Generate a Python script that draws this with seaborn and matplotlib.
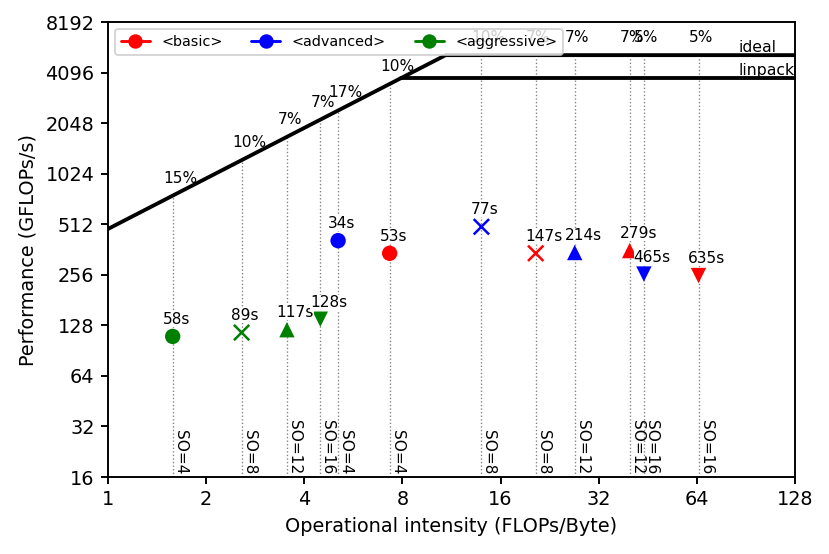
import numpy as np
import pandas as pd
import matplotlib
matplotlib.use("Agg")
import matplotlib.pyplot as plt
from matplotlib.lines import Line2D
import seaborn as sns

# roofline da maquina
bandwidth = 480.0      # GB/s
linpack_peak = 3790.0  # GFLOPs/s
ideal_peak = 5210.0    # GFLOPs/s

# pontos medidos
intensity = [1.58, 2.57, 3.54, 4.48, 5.08, 7.31, 13.97, 20.5, 27.0, 39.8, 44.0, 64.7]
perf = [110, 116, 120.6, 139.3, 409, 344, 495, 344, 347.6, 357, 258.8, 253.5]
optim = ["aggressive", "aggressive", "aggressive", "aggressive",
         "advanced", "basic", "advanced", "basic",
         "advanced", "basic", "advanced", "basic"]
so = [4, 8, 12, 16, 4, 4, 8, 8, 12, 12, 16, 16]
runtime = ["58s", "89s", "117s", "128s", "34s", "53s", "77s", "147s",
           "214s", "279s", "465s", "635s"]
efficiency = ["15%", "10%", "7%", "7%", "17%", "10%", "10%", "7%",
              "7%", "7%", "5%", "5%"]

legend_names = ["basic", "advanced", "aggressive"]
cores = {"basic": "red", "advanced": "blue", "aggressive": "green"}
marcadores = {4: "o", 8: "x", 12: "^", 16: "v"}

x_ticks = [1, 2, 4, 8, 16, 32, 64, 128]
y_ticks = [16, 32, 64, 128, 256, 512, 1024, 2048, 4096, 8192]

df = pd.DataFrame({"oi": intensity, "perf": perf, "opt": optim, "so": so,
                   "tempo": runtime, "eff": efficiency})

sns.set_style("ticks", {"axes.edgecolor": "black", "xtick.color": "black",
                        "ytick.color": "black", "text.color": "black",
                        "axes.labelcolor": "black"})
plt.rcParams["font.family"] = ["DejaVu Sans"]

fig, ax = plt.subplots(figsize=(6, 4.005), dpi=138.333)
fig.subplots_adjust(left=0.130, right=0.958, bottom=0.139, top=0.960)

ax.set_xscale("log", base=2)
ax.set_yscale("log", base=2)


def roof(x):
    return np.minimum(bandwidth * np.asarray(x), ideal_peak)


# linhas do roofline
x_lin = linpack_peak / bandwidth
x_ideal = ideal_peak / bandwidth
sns.lineplot(x=[1, x_ideal, 128], y=[bandwidth, ideal_peak, ideal_peak],
             color="black", lw=2, sort=False, estimator=None, ax=ax)
sns.lineplot(x=[x_lin, 128], y=[linpack_peak, linpack_peak],
             color="black", lw=2, sort=False, estimator=None, ax=ax)
ax.text(86, ideal_peak, "ideal", fontsize=8.2, ha="left", va="bottom", clip_on=True)
ax.text(86, linpack_peak, "linpack", fontsize=8.2, ha="left", va="bottom", clip_on=True)

# linhas pontilhadas ate o teto
for _, r in df.iterrows():
    ax.plot([r.oi, r.oi], [16, roof(r.oi)], ls=":", color="grey", lw=0.7, zorder=1)

# pontos
for s, m in marcadores.items():
    sub = df[df.so == s]
    extra = {"linewidth": 1.3} if m == "x" else {"edgecolor": "none"}
    sns.scatterplot(data=sub, x="oi", y="perf", hue="opt", palette=cores,
                    marker=m, s=64, legend=False, ax=ax, zorder=3, **extra)

# textos
for _, r in df.iterrows():
    ax.annotate(r.tempo, (r.oi, r.perf), xytext=(-5.3, 6.5), textcoords="offset points",
                ha="left", va="baseline", fontsize=8, zorder=4,
                bbox=dict(facecolor="white", edgecolor="none", pad=0))
    ax.annotate(r.eff, (r.oi, roof(r.oi)), xytext=(-5, 6.8), textcoords="offset points",
                ha="left", va="baseline", fontsize=8)
    ax.annotate(f"SO={r.so}", (r.oi, 16), xytext=(0, 1.5), textcoords="offset points",
                ha="left", va="bottom", rotation=270, fontsize=8)

ax.set_xlim(1, 128)
ax.set_ylim(16, 8192)
ax.set_xticks(x_ticks)
ax.set_xticklabels([str(t) for t in x_ticks])
ax.set_yticks(y_ticks)
ax.set_yticklabels([str(t) for t in y_ticks])
ax.minorticks_off()
ax.tick_params(labelsize=10, length=3.5, width=1)
for sp in ax.spines.values():
    sp.set_linewidth(1)
    sp.set_color("black")

ax.set_xlabel("Operational intensity (FLOPs/Byte)", fontsize=10)
ax.set_ylabel("Performance (GFLOPs/s)", fontsize=10)

handles = [Line2D([0], [0], color=cores[n], marker="o", markersize=6.5, lw=1.5)
           for n in legend_names]
ax.legend(handles, [f"<{n}>" for n in legend_names], loc="upper left", ncol=3,
          fontsize=7.5, framealpha=0.8)

fig.savefig("out.png", dpi=138.333)
